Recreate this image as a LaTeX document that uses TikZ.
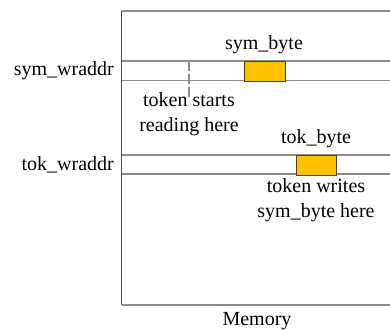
\documentclass[tikz,border=0pt]{standalone}
\usepackage{fontspec}
\setmainfont{Liberation Serif}
\usepackage{tikz}
\usetikzlibrary{positioning}

\definecolor{byteorange}{HTML}{FFC000}

\begin{document}
\begin{tikzpicture}[
  x=1pt, y=-1pt,
  memline/.style={draw=black!45, line width=1.3pt},
  byte/.style={draw=black!75, fill=byteorange, line width=0.9pt, inner sep=0pt,
    minimum width=40.5pt, minimum height=19.5pt, anchor=north west},
  lbl/.style={font=\rmfamily\fontsize{20}{25}\selectfont, align=center, inner sep=0pt},
]
\useasboundingbox (0,0) rectangle (390,329);

% memory outline
\draw[memline] (390,11) -- (121.5,11);
\draw[draw=black!70, line width=1pt] (121.5,11) -- (121.5,305);
\draw[memline] (121.5,305) -- (390,305);

% the two address rows
\foreach \y in {61,80.5,155,174}
  \draw[memline] (121.5,\y) -- (390,\y);

\node[byte] (symbyte) at (244,61) {};
\node[byte] (tokbyte) at (295.5,155) {};

\node[lbl] (symlbl) at (264,45) {sym\_byte};
\node[lbl] (toklbl) at (316,139) {tok\_byte};

\node[lbl, anchor=east] (symaddr) at (114,71) {sym\_wraddr};
\node[lbl, anchor=east] (tokaddr) at (114,165) {tok\_wraddr};

% where token reads from
\coordinate (readpt) at (189,61);
\coordinate (readend) at (189,100);
\node[lbl] (readnote) at (189,114) {token starts\\reading here};
\draw[black!45, line width=1.3pt, dash pattern=on 10pt off 3pt] (readpt) -- (readend);

\node[lbl] (writenote) at (316,200) {token writes\\sym\_byte here};

\node[lbl] (memlbl) at (257,321) {Memory};
\end{tikzpicture}
\end{document}
